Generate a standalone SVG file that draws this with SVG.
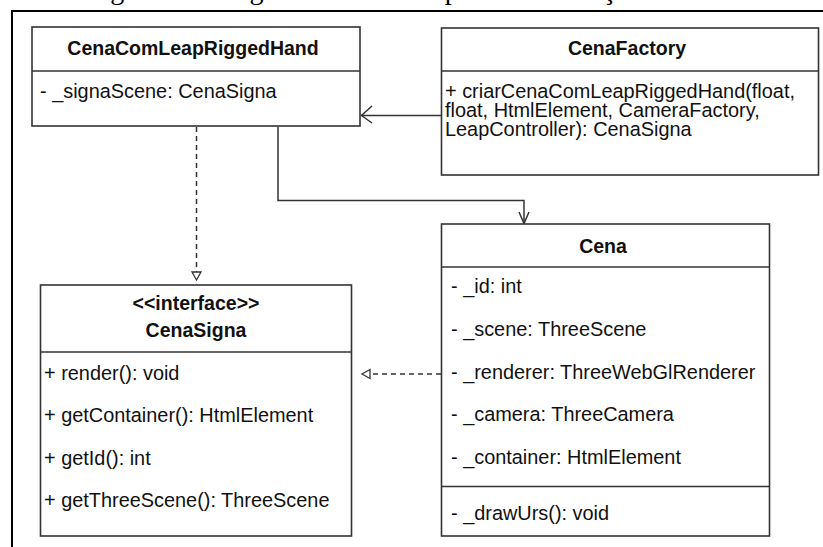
<svg xmlns="http://www.w3.org/2000/svg" width="823" height="547" viewBox="0 0 823 547">
<style>
  .box { fill: #ffffff; stroke: #333333; stroke-width: 1.6; }
  .div { stroke: #333333; stroke-width: 1.6; fill: none; }
  .t { font-family: "Liberation Sans", Arial, Helvetica, sans-serif; font-size: 19.9px; fill: #111111; }
  .b { font-weight: bold; text-anchor: middle; font-size: 19.5px; }
  .conn { stroke: #333333; stroke-width: 1.5; fill: none; }
  .dash { stroke-dasharray: 5 4; }
  .hollow { fill: #ffffff; stroke: #333333; stroke-width: 1.3; }
  .cap { font-family: "Liberation Serif", "Times New Roman", serif; font-size: 28px; fill: #000000; }
</style>
<rect x="0" y="0" width="823" height="547" fill="#ffffff"/>
<text class="cap" x="87" y="-1">Figura 3 – Diagrama de classes para inicialização de cena</text>
<path d="M12,548 V11 H824" fill="none" stroke="#000000" stroke-width="2"/>

<g id="connectors">
  <!-- CenaFactory -> CenaComLeapRiggedHand -->
  <line class="conn" x1="441" y1="115.5" x2="361" y2="115.5"/>
  <polyline class="conn" points="372,106 361.5,115.5 372,123"/>
  <!-- CenaComLeapRiggedHand ..> CenaSigna (realization) -->
  <line class="conn dash" x1="196.5" y1="127" x2="196.5" y2="272"/>
  <polygon class="hollow" points="192,272 201,272 196.5,280"/>
  <!-- CenaComLeapRiggedHand -> Cena -->
  <polyline class="conn" points="278,126.5 278,200.5 524,200.5 524,223"/>
  <polyline class="conn" points="519,212 524,223.5 529,212"/>
  <!-- Cena ..> CenaSigna (realization) -->
  <line class="conn dash" x1="441" y1="374" x2="370" y2="374"/>
  <polygon class="hollow" points="370,369.5 370,378.5 362,374"/>
</g>

<g id="CenaComLeapRiggedHand">
  <rect class="box" x="32" y="27" width="328" height="99"/>
  <line class="div" x1="32" y1="71" x2="360" y2="71"/>
  <text class="t b" x="193" y="55">CenaComLeapRiggedHand</text>
  <text class="t" x="40" y="97.5">- _signaScene: CenaSigna</text>
</g>

<g id="CenaFactory">
  <rect class="box" x="441.5" y="28" width="377" height="147"/>
  <line class="div" x1="441.5" y1="71" x2="818.5" y2="71"/>
  <text class="t b" x="627" y="55">CenaFactory</text>
  <text class="t" x="445" y="97.5">+ criarCenaComLeapRiggedHand(float,</text>
  <text class="t" x="445" y="116.5">float, HtmlElement, CameraFactory,</text>
  <text class="t" x="445" y="135.5">LeapController): CenaSigna</text>
</g>

<g id="Cena">
  <rect class="box" x="441.5" y="224" width="328" height="312"/>
  <line class="div" x1="441.5" y1="267" x2="769.5" y2="267"/>
  <line class="div" x1="441.5" y1="486.5" x2="769.5" y2="486.5"/>
  <text class="t b" x="603" y="252.5">Cena</text>
  <text class="t" x="451" y="293">- _id: int</text>
  <text class="t" x="451" y="336">- _scene: ThreeScene</text>
  <text class="t" x="451" y="378.5">- _renderer: ThreeWebGlRenderer</text>
  <text class="t" x="451" y="421">- _camera: ThreeCamera</text>
  <text class="t" x="451" y="463.5">- _container: HtmlElement</text>
  <text class="t" x="451" y="520">- _drawUrs(): void</text>
</g>

<g id="CenaSigna">
  <rect class="box" x="40.5" y="285" width="311" height="251"/>
  <line class="div" x1="40.5" y1="352" x2="351.5" y2="352"/>
  <text class="t b" x="196" y="310">&lt;&lt;interface&gt;&gt;</text>
  <text class="t b" x="196" y="336.5">CenaSigna</text>
  <text class="t" x="44" y="379.5">+ render(): void</text>
  <text class="t" x="44" y="422">+ getContainer(): HtmlElement</text>
  <text class="t" x="44" y="464.5">+ getId(): int</text>
  <text class="t" x="44" y="507">+ getThreeScene(): ThreeScene</text>
</g>
</svg>
